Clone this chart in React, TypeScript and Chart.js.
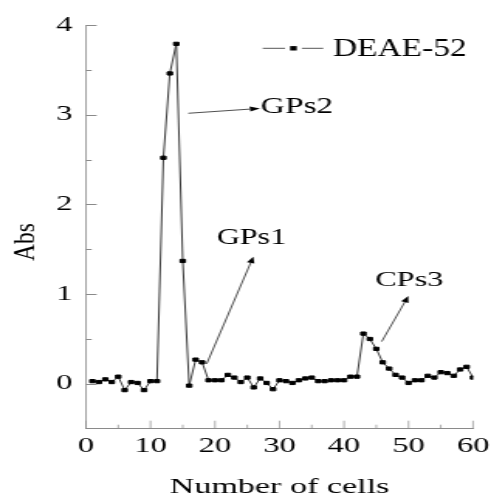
import React, { useEffect, useRef } from 'react';
import { Chart, registerables } from 'chart.js';

Chart.register(...registerables);

// ---- data ----
const cells = [
  1, 2, 3, 4, 5, 6, 7, 8, 9, 10,
  11, 12, 13, 14, 15, 16, 17, 18, 19, 20,
  21, 22, 23, 24, 25, 26, 27, 28, 29, 30,
  31, 32, 33, 34, 35, 36, 37, 38, 39, 40,
  41, 42, 43, 44, 45, 46, 47, 48, 49, 50,
  51, 52, 53, 54, 55, 56, 57, 58, 59, 60,
];
const absValues = [
  0.03, 0.02, 0.05, 0.02, 0.08, -0.07, 0.02, 0.01, -0.07, 0.03,
  0.03, 2.52, 3.46, 3.79, 1.37, -0.02, 0.27, 0.24, 0.04, 0.04,
  0.04, 0.10, 0.07, 0.02, 0.07, -0.04, 0.06, 0.01, -0.06, 0.04,
  0.03, 0.01, 0.04, 0.06, 0.07, 0.03, 0.03, 0.04, 0.04, 0.04,
  0.08, 0.08, 0.56, 0.50, 0.39, 0.24, 0.17, 0.10, 0.07, 0.01,
  0.04, 0.04, 0.09, 0.07, 0.13, 0.12, 0.09, 0.16, 0.19, 0.07,
];
const seriesName = 'DEAE-52';
const xTickValues = [0, 10, 20, 30, 40, 50, 60];
const yTickValues = [0, 1, 2, 3, 4];
const xTitle = 'Number of cells';
const yTitle = 'Abs';

// peak annotations (data units)
const peakLabels = ['GPs2', 'GPs1', 'CPs3'];
const arrowFrom = [[15.86, 3.016], [18.71, 0.223], [45.84, 0.471]];
const arrowTo = [[26.98, 3.07], [25.94, 1.418], [49.97, 0.98]];
const labelAt = [[27.08, 3.016], [20.26, 1.557], [44.81, 1.092]];

// ---- layout / style ----
const CANVAS_W = 317; // internal width, stretched horizontally to CSS_W
const CSS_W = 491;
const CANVAS_H = 498;
const FONT = '"Liberation Serif", "Times New Roman", serif';
const AXIS_COLOR = '#8a8a8a';
const labelFont = [24, 23, 22];
const labelSqueeze = [0.9, 0.9, 0.95];

function squeezedText(ctx: any, text: string, x: number, y: number, size: number, sx: number) {
  ctx.save();
  ctx.translate(x, y);
  ctx.scale(sx, 1);
  ctx.font = `${size}px ${FONT}`;
  ctx.textAlign = 'left';
  ctx.textBaseline = 'alphabetic';
  ctx.fillStyle = '#000';
  ctx.fillText(text, 0, 0);
  ctx.restore();
}

const overlay = {
  id: 'overlay',
  afterDatasetsDraw(chart: any) {
    const { ctx, chartArea, scales } = chart;
    const xs = scales.x;
    const ys = scales.y;
    ctx.save();

    // inward tick marks
    ctx.strokeStyle = AXIS_COLOR;
    const xMinor = xTickValues.slice(0, -1).map((v, i) => (v + xTickValues[i + 1]) / 2);
    ctx.lineWidth = 0.7;
    ctx.beginPath();
    xTickValues.forEach((v) => {
      const px = xs.getPixelForValue(v);
      ctx.moveTo(px, chartArea.bottom);
      ctx.lineTo(px, chartArea.bottom - 8);
    });
    xMinor.forEach((v) => {
      const px = xs.getPixelForValue(v);
      ctx.moveTo(px, chartArea.bottom);
      ctx.lineTo(px, chartArea.bottom - 4);
    });
    ctx.stroke();
    const yMinor = yTickValues.slice(0, -1).map((v, i) => (v + yTickValues[i + 1]) / 2);
    ctx.lineWidth = 1;
    ctx.beginPath();
    yTickValues.forEach((v) => {
      const py = Math.round(ys.getPixelForValue(v)) + 0.5;
      ctx.moveTo(chartArea.left, py);
      ctx.lineTo(chartArea.left + 6.9, py);
    });
    yMinor.forEach((v) => {
      const py = Math.round(ys.getPixelForValue(v)) + 0.5;
      ctx.moveTo(chartArea.left, py);
      ctx.lineTo(chartArea.left + 3.7, py);
    });
    ctx.stroke();

    // annotation arrows + labels
    peakLabels.forEach((label, i) => {
      const x1 = xs.getPixelForValue(arrowFrom[i][0]);
      const y1 = ys.getPixelForValue(arrowFrom[i][1]);
      const x2 = xs.getPixelForValue(arrowTo[i][0]);
      const y2 = ys.getPixelForValue(arrowTo[i][1]);
      const ang = Math.atan2(y2 - y1, x2 - x1);
      const headLen = 6.5;
      const headW = 2.5;
      const bx = x2 - headLen * Math.cos(ang);
      const by = y2 - headLen * Math.sin(ang);
      ctx.strokeStyle = '#222';
      ctx.lineWidth = 0.8;
      ctx.beginPath();
      ctx.moveTo(x1, y1);
      ctx.lineTo(bx, by);
      ctx.stroke();
      ctx.fillStyle = '#000';
      ctx.beginPath();
      ctx.moveTo(x2, y2);
      ctx.lineTo(bx + headW * Math.sin(ang), by - headW * Math.cos(ang));
      ctx.lineTo(bx - headW * Math.sin(ang), by + headW * Math.cos(ang));
      ctx.closePath();
      ctx.fill();

      squeezedText(
        ctx,
        label,
        xs.getPixelForValue(labelAt[i][0]),
        ys.getPixelForValue(labelAt[i][1]),
        labelFont[i],
        labelSqueeze[i],
      );
    });

    // legend (inside top-right)
    const lx = chartArea.right - 135.8;
    const ly = 48.3;
    ctx.strokeStyle = '#555';
    ctx.lineWidth = 1;
    ctx.beginPath();
    ctx.moveTo(lx, ly);
    ctx.lineTo(lx + 14.4, ly);
    ctx.moveTo(lx + 25.3, ly);
    ctx.lineTo(lx + 39.1, ly);
    ctx.stroke();
    ctx.fillStyle = '#000';
    ctx.fillRect(lx + 17.7, ly - 2.2, 4.3, 4.4);
    squeezedText(ctx, seriesName, lx + 45.4, 56, 26, 0.83);

    // y axis title
    ctx.translate(17.2, 242);
    ctx.rotate(-Math.PI / 2);
    ctx.scale(1, 0.82);
    ctx.font = `23.5px ${FONT}`;
    ctx.fillStyle = '#000';
    ctx.textAlign = 'center';
    ctx.textBaseline = 'middle';
    ctx.fillText(yTitle, 0, 0);

    ctx.restore();
  },
};

export default function App() {
  const ref = useRef<HTMLCanvasElement | null>(null);

  useEffect(() => {
    document.body.style.margin = '0';
    const canvas = ref.current;
    if (!canvas) return;
    const chart = new Chart(canvas, {
      type: 'line',
      data: {
        datasets: [
          {
            label: seriesName,
            data: cells.map((c, i) => ({ x: c, y: absValues[i] })),
            borderColor: '#222',
            borderWidth: 0.9,
            pointStyle: 'rect',
            pointRadius: 2.3,
            pointBackgroundColor: '#000',
            pointBorderColor: '#000',
            pointBorderWidth: 1,
            tension: 0,
            fill: false,
          },
        ],
      },
      options: {
        responsive: false,
        animation: false,
        devicePixelRatio: 1,
        layout: { padding: { top: 25, right: 11.6, bottom: 0, left: 0 } },
        plugins: {
          legend: { display: false },
          tooltip: { enabled: false },
          title: { display: false },
        },
        scales: {
          x: {
            type: 'linear',
            min: 0,
            max: 60,
            afterBuildTicks: (s: any) => {
              s.ticks = xTickValues.map((v) => ({ value: v }));
            },
            afterFit: (s: any) => {
              s.height = 69.3;
              s.paddingLeft = 0;
              s.paddingRight = 0;
            },
            ticks: {
              font: { family: FONT, size: 21 },
              color: '#000',
              padding: 5.5,
              maxRotation: 0,
              autoSkip: false,
            },
            grid: { display: false, drawTicks: false },
            border: { display: true, color: AXIS_COLOR, width: 1 },
            title: {
              display: true,
              text: xTitle,
              color: '#000',
              font: { family: FONT, size: 22, lineHeight: 1 },
              padding: { top: 0, bottom: 0 },
            },
          },
          y: {
            type: 'linear',
            min: -0.5,
            max: 4,
            afterBuildTicks: (s: any) => {
              s.ticks = yTickValues.map((v) => ({ value: v }));
            },
            afterFit: (s: any) => {
              s.width = 55.5;
              s.paddingTop = 0;
              s.paddingBottom = 0;
            },
            ticks: {
              font: { family: FONT, size: 21 },
              color: '#000',
              padding: 8.7,
            },
            grid: { display: false, drawTicks: false },
            border: { display: true, color: AXIS_COLOR, width: 0.8 },
          },
        },
      },
      plugins: [overlay],
    } as any);
    return () => chart.destroy();
  }, []);

  return (
    <canvas
      ref={ref}
      width={CANVAS_W}
      height={CANVAS_H}
      style={{ width: `${CSS_W}px`, height: `${CANVAS_H}px`, display: 'block' }}
    />
  );
}
